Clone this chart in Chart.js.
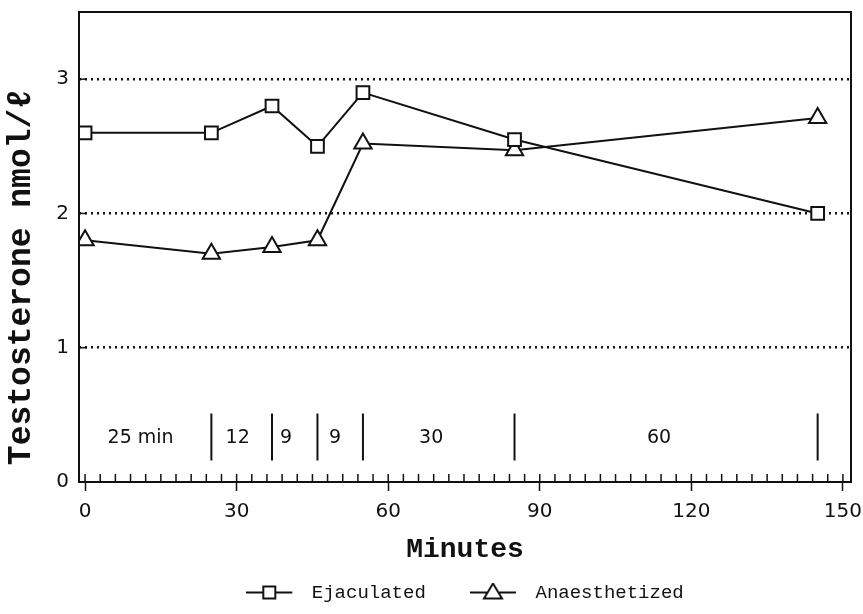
<!DOCTYPE html>
<html>
<head>
<meta charset="utf-8">
<script src="https://cdn.jsdelivr.net/npm/chart.js@4"></script>
<style>
  html, body { margin: 0; padding: 0; background: #fff; }
  #chart { display: block; }
</style>
</head>
<body>
<canvas id="chart" width="863" height="614"></canvas>
<script>
// sampling times (minutes) and testosterone levels
const minutes = [0, 25, 37, 46, 55, 85, 145];
const ejaculated = [2.60, 2.60, 2.80, 2.50, 2.90, 2.55, 2.00];
const anaesthetized = [1.80, 1.70, 1.75, 1.80, 2.52, 2.47, 2.71];

// interval markers along the bottom of the plot
const intervalBounds = [25, 37, 46, 55, 85, 145];
const intervalLabels = ["25 min", "12", "9", "9", "30", "60"];
const intervalLabelAt = [11, 30.2, 39.8, 49.5, 68.5, 113.6];
const markerLow = 0.16;
const markerHigh = 0.51;
const labelLevel = 0.33;

const yTicks = [0, 1, 2, 3];
const xTickLabels = [0, 30, 60, 90, 120, 150];
const yTitle = "Testosterone nmol/ℓ";

const tickFont = "'DejaVu Sans', sans-serif";
const typeFont = "'Liberation Mono', monospace";

function points(xs, ys) {
  return xs.map((x, i) => ({ x, y: ys[i] }));
}

function markerSegments() {
  const out = [];
  intervalBounds.forEach(b => {
    out.push({ x: b, y: markerLow }, { x: b, y: markerHigh }, { x: b, y: null });
  });
  return out;
}

// legend symbol: short line with the marker sitting on it
function legendIcon(style) {
  const c = document.createElement("canvas");
  c.width = 56;
  c.height = 20;
  const g = c.getContext("2d");
  g.strokeStyle = "#111";
  g.lineWidth = 2;
  g.beginPath();
  g.moveTo(0, 10);
  g.lineTo(46, 10);
  g.stroke();
  g.fillStyle = "#fff";
  g.beginPath();
  if (style === "rect") {
    g.rect(17, 4, 12, 12);
  } else {
    g.moveTo(23, 1);
    g.lineTo(32, 16);
    g.lineTo(14, 16);
    g.closePath();
  }
  g.fill();
  g.stroke();
  return c;
}

const framePlugin = {
  id: "frame",
  afterDatasetsDraw(chart) {
    const { ctx, chartArea: a, scales } = chart;
    const x = scales.x;
    const y = scales.y;
    ctx.save();
    ctx.strokeStyle = "#111";
    ctx.lineWidth = 2;
    ctx.strokeRect(a.left, a.top, a.right - a.left, a.bottom - a.top);

    // minor ticks every 3 min pointing into the plot
    ctx.lineWidth = 1.5;
    for (let v = 0; v <= 150; v += 3) {
      const px = x.getPixelForValue(v);
      ctx.beginPath();
      ctx.moveTo(px, a.bottom);
      ctx.lineTo(px, a.bottom - 8);
      ctx.stroke();
    }
    // short solid ticks at y gridlines
    [1, 2, 3].forEach(v => {
      const py = y.getPixelForValue(v);
      ctx.beginPath();
      ctx.moveTo(a.left, py);
      ctx.lineTo(a.left + 8, py);
      ctx.stroke();
    });

    // interval labels
    ctx.fillStyle = "#111";
    ctx.font = "19px " + tickFont;
    ctx.textAlign = "center";
    ctx.textBaseline = "middle";
    intervalLabels.forEach((t, i) => {
      ctx.fillText(t, x.getPixelForValue(intervalLabelAt[i]), y.getPixelForValue(labelLevel));
    });

    // y axis title, sits a bit below the centre of the axis in the original
    ctx.translate(22, a.bottom - 205);
    ctx.rotate(-Math.PI / 2);
    ctx.font = "bold 33px " + typeFont;
    ctx.fillText(yTitle, 0, 0);
    ctx.restore();
  }
};

new Chart(document.getElementById("chart"), {
  type: "line",
  data: {
    datasets: [
      {
        label: "Ejaculated",
        data: points(minutes, ejaculated),
        borderColor: "#111",
        borderWidth: 2,
        pointStyle: "rect",
        pointRadius: 9,
        pointBackgroundColor: "#fff",
        pointBorderColor: "#111",
        pointBorderWidth: 2,
        tension: 0
      },
      {
        label: "Anaesthetized",
        data: points(minutes, anaesthetized),
        borderColor: "#111",
        borderWidth: 2,
        pointStyle: "triangle",
        pointRadius: 10,
        pointBackgroundColor: "#fff",
        pointBorderColor: "#111",
        pointBorderWidth: 2,
        tension: 0
      },
      {
        label: "intervals",
        data: markerSegments(),
        borderColor: "#111",
        borderWidth: 2,
        pointRadius: 0,
        spanGaps: false
      }
    ]
  },
  options: {
    responsive: false,
    animation: false,
    layout: { padding: { top: 7, right: 12, left: 0, bottom: 2 } },
    plugins: {
      tooltip: { enabled: false },
      legend: {
        position: "bottom",
        fullSize: false,
        labels: {
          color: "#111",
          font: { family: typeFont, size: 19 },
          usePointStyle: true,
          pointStyleWidth: 56,
          boxHeight: 20,
          padding: 10,
          generateLabels: chart => chart.data.datasets.slice(0, 2).map((ds, i) => ({
            // extra spaces keep the gap between the two entries
            text: i === 0 ? ds.label + "   " : ds.label,
            datasetIndex: i,
            pointStyle: legendIcon(ds.pointStyle),
            fillStyle: "#fff",
            strokeStyle: "#111",
            lineWidth: 0,
            fontColor: "#111"
          }))
        }
      }
    },
    scales: {
      x: {
        type: "linear",
        min: -1.2,
        max: 151.6,
        afterBuildTicks: scale => {
          scale.ticks = xTickLabels.map(v => ({ value: v }));
        },
        afterFit: scale => {
          scale.height = 91;
          scale.paddingLeft = 0;
          scale.paddingRight = 0;
        },
        border: { display: false },
        grid: {
          drawOnChartArea: false,
          drawTicks: true,
          tickLength: 9,
          tickWidth: 1.5,
          tickColor: "#111"
        },
        ticks: {
          color: "#111",
          font: { family: tickFont, size: 20 },
          maxRotation: 0,
          padding: 9
        },
        title: {
          display: true,
          text: "Minutes",
          color: "#111",
          font: { family: typeFont, size: 28, weight: "bold" },
          padding: { top: 0, bottom: 6 }
        }
      },
      y: {
        min: 0,
        max: 3.5,
        afterBuildTicks: scale => {
          scale.ticks = yTicks.map(v => ({ value: v }));
        },
        afterFit: scale => {
          scale.width = 79;
          scale.paddingTop = 0;
          scale.paddingBottom = 0;
        },
        border: { display: false, dash: [2, 4] },
        grid: {
          drawTicks: false,
          color: ctx => (ctx.tick && ctx.tick.value > 0 ? "#111" : "rgba(0,0,0,0)"),
          lineWidth: 2.5
        },
        ticks: {
          color: "#111",
          font: { family: tickFont, size: 20 },
          padding: 10
        },
        title: { display: false }
      }
    }
  },
  plugins: [framePlugin]
});
</script>
</body>
</html>
